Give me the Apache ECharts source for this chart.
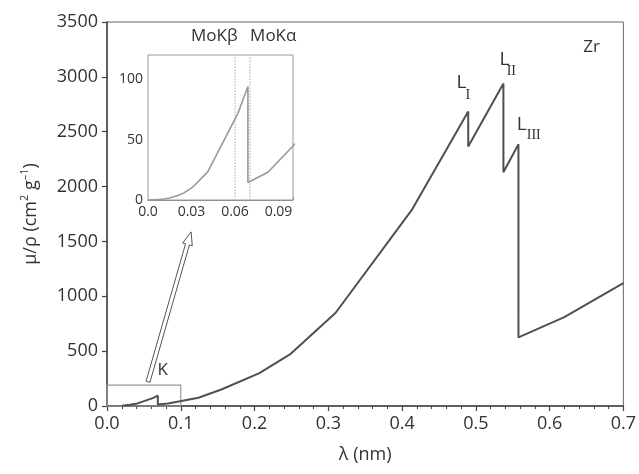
<!DOCTYPE html>
<html>
<head>
<meta charset="utf-8">
<script src="https://cdn.jsdelivr.net/npm/echarts@6/dist/echarts.min.js"></script>
<style>
  html, body { margin: 0; padding: 0; background: #fff; }
  #chart { width: 639px; height: 474px; }
</style>
</head>
<body>
<div id="chart"></div>
<script>
// Mass attenuation coefficient of zirconium versus X-ray wavelength
const lambdaNm = [0.0207, 0.0248, 0.031, 0.0413, 0.062, 0.0689, 0.0689, 0.0827, 0.124, 0.155,
                  0.2066, 0.248, 0.31, 0.413, 0.4897, 0.4897, 0.5374, 0.5374, 0.5578, 0.5578, 0.62, 0.7];
const muRho = [3.7, 5.9, 10.8, 23.5, 71.7, 94, 14.5, 23, 75, 150,
               300, 470, 850, 1785, 2685, 2365, 2940, 2130, 2385, 625, 810, 1120];

// extra short-wavelength points shown only in the K-edge inset
const insetLeadLambda = [0, 0.0062, 0.0124, 0.0155];
const insetLeadMu = [0, 0.27, 1.1, 1.8];

// Mo emission lines marked in the inset
const moLines = [0.0632, 0.0711];
const moNames = ['MoKβ', 'MoKα'];

const xTicks = [0, 0.1, 0.2, 0.3, 0.4, 0.5, 0.6, 0.7];
const yTicks = [0, 500, 1000, 1500, 2000, 2500, 3000, 3500];
const insetXTicks = [0, 0.03, 0.06, 0.09];
const insetYTicks = [0, 50, 100];

// zoom box around the K edge and the arrow leading to the inset
const zoomBox = [[0, 0], [0.1, 190]];
const arrowFrom = [0.0556, 221];
const arrowTo = [0.114, 1587];

const FONT = 'Open Sans';
const TXT = '#333';

const mainData = lambdaNm.map((x, i) => [x, muRho[i]]);
const insetData = insetLeadLambda.map((x, i) => [x, insetLeadMu[i]]).concat(mainData);

const chart = echarts.init(document.getElementById('chart'), null, { renderer: 'canvas' });

chart.setOption({
  animation: false,
  backgroundColor: '#fff',
  textStyle: { fontFamily: FONT },
  grid: [
    { left: 107, right: 12, top: 22, bottom: 68, show: true, borderColor: '#666', borderWidth: 1, z: 0 },
    { left: 148, top: 55, width: 145, height: 145, show: true, borderColor: '#999', borderWidth: 1, backgroundColor: '#fff', z: 5 }
  ],
  xAxis: [
    {
      type: 'value', gridIndex: 0, min: xTicks[0], max: xTicks[xTicks.length - 1], interval: 0.1,
      axisLine: { onZero: false, lineStyle: { color: '#444', width: 1.5 } },
      axisTick: { show: true, length: 5, lineStyle: { color: '#444', width: 1.2 } },
      minorTick: { show: true, splitNumber: 5, length: 3, lineStyle: { color: '#444', width: 1 } },
      splitLine: { show: false },
      axisLabel: { fontSize: 18, color: TXT, fontFamily: FONT, margin: 9, formatter: v => v.toFixed(1) },
      name: 'λ (nm)', nameLocation: 'middle', nameGap: 40,
      nameTextStyle: { fontSize: 18, color: TXT, fontFamily: FONT }
    },
    {
      type: 'value', gridIndex: 1, min: 0, max: 0.1, interval: 0.03,
      axisLine: { onZero: false, lineStyle: { color: '#888', width: 1 } },
      axisTick: { show: true, inside: true, length: 3, lineStyle: { color: '#888' } },
      minorTick: { show: true, splitNumber: 3, length: 2, lineStyle: { color: '#999' } },
      splitLine: { show: false },
      axisLabel: {
        fontSize: 14, color: TXT, fontFamily: FONT, margin: 5, showMaxLabel: false,
        formatter: v => (v === 0 ? '0.0' : String(+v.toFixed(2)))
      }
    }
  ],
  yAxis: [
    {
      type: 'value', gridIndex: 0, min: yTicks[0], max: yTicks[yTicks.length - 1], interval: 500,
      axisLine: { onZero: false, lineStyle: { color: '#444', width: 1.5 } },
      axisTick: { show: true, length: 5, lineStyle: { color: '#444', width: 1.2 } },
      splitLine: { show: false },
      axisLabel: { fontSize: 18, color: TXT, fontFamily: FONT, margin: 9, formatter: v => String(v) },
      name: '{n|μ/ρ (cm}{s|2}{n| g}{s|–1}{n|)}', nameLocation: 'middle', nameGap: 64,
      nameTextStyle: {
        fontSize: 18, color: TXT, fontFamily: FONT,
        rich: {
          n: { fontSize: 18, color: TXT, fontFamily: FONT, lineHeight: 24, verticalAlign: 'middle' },
          s: { fontSize: 11, color: TXT, fontFamily: FONT, lineHeight: 12, verticalAlign: 'top' }
        }
      }
    },
    {
      type: 'value', gridIndex: 1, min: 0, max: 120, interval: 50,
      axisLine: { onZero: false, lineStyle: { color: '#888', width: 1 } },
      axisTick: { show: true, inside: true, length: 3, lineStyle: { color: '#888' } },
      minorTick: { show: true, splitNumber: 5, length: 2, lineStyle: { color: '#999' } },
      splitLine: { show: false },
      axisLabel: { fontSize: 14, color: TXT, fontFamily: FONT, margin: 5, showMaxLabel: false, formatter: v => String(v) }
    }
  ],
  series: [
    {
      type: 'line', xAxisIndex: 0, yAxisIndex: 0, data: mainData,
      showSymbol: false, lineStyle: { color: '#505050', width: 2 }, z: 3,
      markArea: {
        silent: true,
        itemStyle: { color: 'rgba(0,0,0,0)', borderColor: '#999', borderWidth: 1.2 },
        data: [[{ coord: zoomBox[0] }, { coord: zoomBox[1] }]]
      }
    },
    {
      type: 'custom', xAxisIndex: 0, yAxisIndex: 0, silent: true, clip: false, z: 4,
      data: [arrowFrom.concat(arrowTo)],
      renderItem: function (params, api) {
        const a = api.coord([api.value(0), api.value(1)]);
        const b = api.coord([api.value(2), api.value(3)]);
        const dx = b[0] - a[0], dy = b[1] - a[1];
        const len = Math.hypot(dx, dy);
        const ux = dx / len, uy = dy / len, px = -uy, py = ux;
        const hw = 2, headW = 5, headL = 13;
        const bx = b[0] - ux * headL, by = b[1] - uy * headL;
        return {
          type: 'polygon',
          shape: { points: [
            [a[0] + px * hw, a[1] + py * hw],
            [bx + px * hw, by + py * hw],
            [bx + px * headW, by + py * headW],
            [b[0], b[1]],
            [bx - px * headW, by - py * headW],
            [bx - px * hw, by - py * hw],
            [a[0] - px * hw, a[1] - py * hw]
          ] },
          style: { fill: '#fff', stroke: '#555', lineWidth: 1 }
        };
      }
    },
    {
      type: 'line', xAxisIndex: 1, yAxisIndex: 1, data: insetData,
      showSymbol: false, lineStyle: { color: '#999', width: 1.6 }, z: 6, clip: true,
      markLine: {
        silent: true, symbol: 'none',
        label: { show: false },
        lineStyle: { color: '#c4c4c4', type: 'dotted', width: 1.5 },
        data: moLines.map(v => ({ xAxis: v }))
      }
    }
  ]
});

// annotation texts anchored to data positions
function px(grid, pt) { return chart.convertToPixel({ gridIndex: grid }, pt); }
const graphics = [];
function addText(grid, pt, dx, dy, text, opts) {
  const p = px(grid, pt);
  graphics.push({
    type: 'text', x: p[0] + dx, y: p[1] + dy, z: 20, silent: true,
    style: Object.assign({
      text: text, fill: TXT, font: '17px "' + FONT + '"',
      textAlign: 'center', textVerticalAlign: 'middle'
    }, opts || {})
  });
}
addText(0, [0.657, 3270], 0, 0, 'Zr');
addText(0, [0.0754, 328], 0, 0, 'K');
addText(1, [moLines[0], 120], -2, -19, moNames[0], { textAlign: 'right' });
addText(1, [moLines[1], 120], -1, -19, moNames[1], { textAlign: 'left' });

// L-edge labels: sans-serif L with serif roman-numeral subscript
const edgeLabels = [
  { pt: [0.4897, 2685], sub: 'I', l: [-11.7, -28.5], s: [-2.7, -16.3] },
  { pt: [0.5374, 2940], sub: 'II', l: [-4, -24.1], s: [3.3, -12.5] },
  { pt: [0.5578, 2385], sub: 'III', l: [-1.7, -19.8], s: [8.3, -9.3] }
];
edgeLabels.forEach(e => {
  addText(0, e.pt, e.l[0], e.l[1], 'L', { textAlign: 'left', font: '19px "' + FONT + '"' });
  addText(0, e.pt, e.s[0], e.s[1], e.sub, { textAlign: 'left', font: '14px "Liberation Serif"' });
});

chart.setOption({ graphic: graphics });
</script>
</body>
</html>
